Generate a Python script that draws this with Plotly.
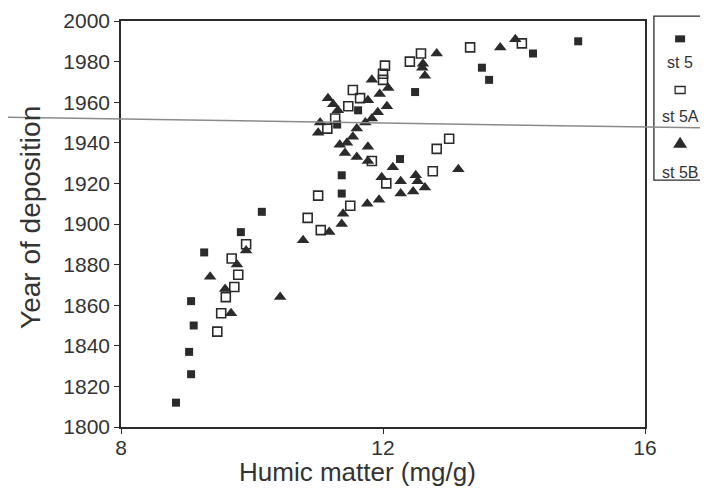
import plotly.graph_objects as go

# station 5 (filled squares)
st5_humic = [8.84, 9.07, 9.04, 9.11, 9.07, 9.27, 9.83, 10.15, 11.37, 11.37, 11.30, 11.62,
             12.26, 12.49, 13.51, 13.62, 14.29, 14.98]
st5_year = [1812, 1826, 1837, 1850, 1862, 1886, 1896, 1906, 1924, 1915, 1949, 1956,
            1932, 1965, 1977, 1971, 1984, 1990]

# station 5A (open squares)
st5a_humic = [9.47, 9.53, 9.60, 9.73, 9.79, 9.69, 9.91, 10.85, 11.01, 11.05, 11.50, 12.05,
              11.83, 12.76, 12.82, 13.01, 11.15, 11.27, 11.47, 11.65, 11.54, 12.00, 12.00,
              12.03, 12.41, 12.58, 13.33, 14.12]
st5a_year = [1847, 1856, 1864, 1869, 1875, 1883, 1890, 1903, 1914, 1897, 1909, 1920,
             1931, 1926, 1937, 1942, 1947, 1952, 1958, 1962, 1966, 1971, 1974,
             1978, 1980, 1984, 1987, 1989]

# station 5B (filled triangles)
st5b_humic = [9.36, 9.59, 9.77, 9.91, 9.68, 10.43, 10.78, 11.18, 11.37, 11.39, 11.76, 11.94,
              11.98, 12.15, 12.27, 12.27, 12.46, 12.50, 12.53, 12.64, 13.15, 11.34, 11.45,
              11.42, 11.60, 11.77, 11.77, 11.54, 11.60, 11.73, 11.83, 11.92, 12.06, 11.77,
              11.95, 12.08, 11.83, 11.16, 11.24, 11.31, 11.04, 11.01, 12.61, 12.60, 12.64,
              12.82, 13.79, 14.02]
st5b_year = [1874, 1868, 1880, 1887, 1856, 1864, 1892, 1896, 1900, 1905, 1910, 1912,
             1923, 1928, 1921, 1915, 1916, 1924, 1921, 1918, 1927, 1939, 1940,
             1935, 1933, 1938, 1931, 1943, 1947, 1950, 1952, 1955, 1958, 1961,
             1964, 1967, 1971, 1962, 1959, 1956, 1950, 1945, 1979, 1977, 1973,
             1984, 1987, 1991]

ink = '#2b2b2b'
font = 'Liberation Sans, Arial, sans-serif'

fig = go.Figure()
fig.add_trace(go.Scatter(x=st5a_humic, y=st5a_year, mode='markers', name='st 5A',
                         marker=dict(symbol='square-open', size=9, color=ink, line=dict(width=1.6, color=ink))))
fig.add_trace(go.Scatter(x=st5b_humic, y=st5b_year, mode='markers', name='st 5B',
                         marker=dict(symbol='triangle-up', size=11, color=ink)))
fig.add_trace(go.Scatter(x=st5_humic, y=st5_year, mode='markers', name='st 5',
                         marker=dict(symbol='square', size=8, color=ink)))

fig.update_xaxes(range=[8, 16], tickvals=[8, 12, 16], showline=True, linecolor=ink, linewidth=1.5,
                 mirror=True, ticks='outside', ticklen=5, tickcolor=ink, showgrid=False, zeroline=False,
                 automargin=False, ticklabelstandoff=-4,
                 tickfont=dict(size=21, color='#333'))
fig.update_yaxes(range=[1800, 2000], dtick=20, showline=True, linecolor=ink, linewidth=1.5,
                 mirror=True, ticks='outside', ticklen=5, tickcolor=ink, showgrid=False, zeroline=False,
                 automargin=False,
                 tickfont=dict(size=21, color='#333'))

# hand-made legend box (symbol above label)
shapes = [
    dict(type='rect', xref='paper', yref='paper', x0=1.017, x1=1.116, y0=0.608, y1=1.012,
         line=dict(color=ink, width=1.3)),
    dict(type='rect', xref='paper', yref='paper', xsizemode='pixel', ysizemode='pixel',
         xanchor=1.067, yanchor=0.956, x0=-5, x1=5, y0=-3.5, y1=3.5,
         fillcolor=ink, line=dict(width=0)),
    dict(type='rect', xref='paper', yref='paper', xsizemode='pixel', ysizemode='pixel',
         xanchor=1.067, yanchor=0.830, x0=-5, x1=5, y0=-3.5, y1=3.5,
         line=dict(color=ink, width=1.3)),
    dict(type='path', xref='paper', yref='paper', xsizemode='pixel', ysizemode='pixel',
         xanchor=1.067, yanchor=0.700, path='M -7,-5 L 7,-5 L 0,6 Z',
         fillcolor=ink, line=dict(width=0)),
    # fold line of the scanned page
    dict(type='line', xref='paper', yref='paper', x0=-0.231, y0=0.7635, x1=1.12, y1=0.7365,
         line=dict(color='#8a8a8a', width=1.5)),
]

def note(text, x, y, size, angle=0):
    return dict(text=text, x=x, y=y, xref='paper', yref='paper', showarrow=False,
                xanchor='center', yanchor='middle', textangle=angle,
                font=dict(size=size, color='#333'))

annotations = [
    note('st 5', 1.067, 0.897, 16),
    note('st 5A', 1.067, 0.766, 16),
    note('st 5B', 1.067, 0.626, 16),
    note('Year of deposition', -0.174, 0.517, 28, -90),
    note('Humic matter (mg/g)', 0.452, -0.112, 26),
]

# page body adds an 8px offset, so the figure is 8px smaller and margins shifted
fig.update_layout(width=700, height=487, margin=dict(l=113, r=63, t=13, b=68),
                  plot_bgcolor='white', paper_bgcolor='white', showlegend=False,
                  font=dict(family=font), shapes=shapes, annotations=annotations)

fig.write_html("out.html")
